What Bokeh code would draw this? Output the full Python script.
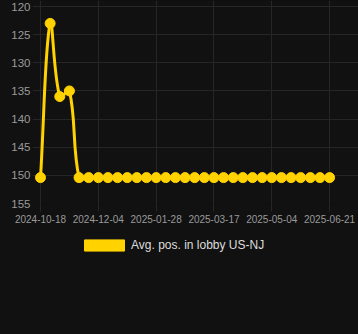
from bokeh.plotting import figure
from bokeh.layouts import column
from bokeh.models import Range1d, ColumnDataSource, Legend, LegendItem, FixedTicker
from bokeh.embed import file_html
from bokeh.resources import INLINE

# ---- data ----
positions = [
    150.4, 123.0, 136.0, 135.0, 150.4, 150.4, 150.4, 150.4, 150.4, 150.4, 150.4,
    150.4, 150.4, 150.4, 150.4, 150.4, 150.4, 150.4, 150.4, 150.4, 150.4, 150.4,
    150.4, 150.4, 150.4, 150.4, 150.4, 150.4, 150.4, 150.4, 150.4,
]
point_index = list(range(len(positions)))
tick_index = [0, 6, 12, 18, 24, 30]
tick_labels = ["2024-10-18", "2024-12-04", "2025-01-28", "2025-03-17", "2025-05-04", "2025-06-21"]
y_ticks = [120, 125, 130, 135, 140, 145, 150, 155]
series_name = "Avg. pos. in lobby US-NJ"

# ---- style ----
BG = "#111111"
GRID = "#262626"
GOLD = "#FFD200"
TICK_TXT = "#9a9a9a"

W = 358
H_MAIN, H_LEG = 232, 102
LEFT, RIGHT, TOP, BOTTOM = 32, 0, 0, 29
X0, X1 = -0.83, 33.0
Y_BOTTOM, Y_TOP = 155.0, 118.93

p = figure(width=W, height=H_MAIN, output_backend="svg", toolbar_location=None,
           x_range=Range1d(X0, X1), y_range=Range1d(Y_BOTTOM, Y_TOP),
           min_border_left=LEFT, min_border_right=RIGHT,
           min_border_top=TOP, min_border_bottom=BOTTOM)
p.background_fill_color = BG
p.border_fill_color = BG
p.outline_line_color = None

# pixel scale (for tension computation like Chart.js)
fw = W - LEFT - RIGHT
fh = H_MAIN - TOP - BOTTOM
sx = fw / (X1 - X0)
sy = fh / (Y_BOTTOM - Y_TOP)

# Chart.js style bezier control points (tension 0.4), computed from the data
t = 0.4
n = len(positions)
cps = []
for i in range(n):
    cx, cy = point_index[i], positions[i]
    px, py = (point_index[i - 1], positions[i - 1]) if i > 0 else (cx, cy)
    nx, ny = (point_index[i + 1], positions[i + 1]) if i < n - 1 else (cx, cy)
    d01 = ((cx - px) ** 2 * sx * sx + (cy - py) ** 2 * sy * sy) ** 0.5
    d12 = ((nx - cx) ** 2 * sx * sx + (ny - cy) ** 2 * sy * sy) ** 0.5
    s01 = d01 / (d01 + d12) if (d01 + d12) > 0 else 0
    s12 = d12 / (d01 + d12) if (d01 + d12) > 0 else 0
    fa, fb = t * s01, t * s12
    prev_cp = (cx - fa * (nx - px), min(max(cy - fa * (ny - py), Y_TOP), Y_BOTTOM))
    next_cp = (cx + fb * (nx - px), min(max(cy + fb * (ny - py), Y_TOP), Y_BOTTOM))
    cps.append((prev_cp, next_cp))

seg = dict(x0=[], y0=[], x1=[], y1=[], cx0=[], cy0=[], cx1=[], cy1=[])
for i in range(n - 1):
    seg["x0"].append(point_index[i]); seg["y0"].append(positions[i])
    seg["x1"].append(point_index[i + 1]); seg["y1"].append(positions[i + 1])
    seg["cx0"].append(cps[i][1][0]); seg["cy0"].append(cps[i][1][1])
    seg["cx1"].append(cps[i + 1][0][0]); seg["cy1"].append(cps[i + 1][0][1])

p.bezier(x0="x0", y0="y0", x1="x1", y1="y1", cx0="cx0", cy0="cy0", cx1="cx1", cy1="cy1",
         source=ColumnDataSource(seg), line_color=GOLD, line_width=3)
p.scatter(point_index, positions, size=10, fill_color=GOLD, line_color=GOLD, line_width=1)

# ---- axes / grid ----
p.xaxis.ticker = FixedTicker(ticks=tick_index)
p.xaxis.major_label_overrides = {i: s for i, s in zip(tick_index, tick_labels)}
p.yaxis.ticker = FixedTicker(ticks=y_ticks)
for ax in (p.xaxis[0], p.yaxis[0]):
    ax.axis_line_color = None
    ax.minor_tick_line_color = None
    ax.major_label_text_color = TICK_TXT
    ax.major_label_text_font = "Liberation Sans"
p.xaxis.major_tick_line_color = GRID
p.xaxis.major_tick_out = 8
p.xaxis.major_tick_in = 0
p.xaxis.major_label_standoff = 3
p.xaxis.major_label_text_font_size = "10px"
p.yaxis.major_tick_line_color = None
p.yaxis.major_tick_out = 0
p.yaxis.major_tick_in = 0
p.yaxis.major_label_standoff = 2
p.yaxis.major_label_text_font_size = "11.5px"
p.xgrid.ticker = FixedTicker(ticks=tick_index)
p.ygrid.ticker = FixedTicker(ticks=y_ticks)
p.grid.grid_line_color = GRID
p.grid.grid_line_width = 1

# ---- legend strip below the chart ----
lg = figure(width=W, height=H_LEG, output_backend="svg", toolbar_location=None,
            x_range=Range1d(0, 1), y_range=Range1d(0, 1),
            x_axis_location=None, y_axis_location=None,
            min_border_left=0, min_border_right=0, min_border_top=0, min_border_bottom=0)
lg.grid.visible = False
lg.background_fill_color = BG
lg.border_fill_color = BG
lg.outline_line_color = None
# swatch renderer for the legend; its only box lies outside the visible range
sw = lg.quad(left=[5], right=[6], top=[6], bottom=[5], fill_color=GOLD, line_color=GOLD, line_width=1)
legend = Legend(items=[LegendItem(label=series_name, renderers=[sw])],
                location=(45, 80), orientation="horizontal",
                glyph_width=50, glyph_height=14, label_standoff=2,
                padding=2, margin=0, spacing=0,
                label_text_color="#dddddd", label_text_font="Liberation Sans",
                label_text_font_size="12px",
                background_fill_alpha=0, border_line_alpha=0)
lg.add_layout(legend, "center")

layout = column(p, lg, spacing=0)
html = file_html(layout, INLINE)
html = html.replace("<head>", "<head><style>html,body{margin:0;padding:0;background:#111111;}</style>", 1)
open("out.html", "w").write(html)
